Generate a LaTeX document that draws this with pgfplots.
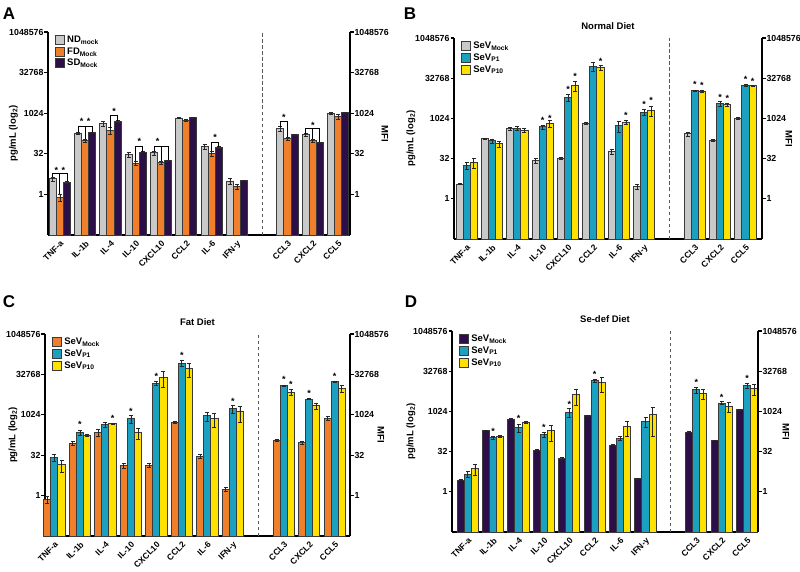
\documentclass[border=0pt]{standalone}
\usepackage{fontspec}
\setmainfont{Liberation Sans}
\usepackage{pgfplots}
\usepackage{pgfplotstable}
\pgfplotsset{compat=1.18}

\definecolor{cgray}{HTML}{C9C9C9}
\definecolor{corange}{HTML}{EF7F2A}
\definecolor{cpurple}{HTML}{2C0E48}
\definecolor{cteal}{HTML}{1BA0BF}
\definecolor{cyellow}{HTML}{FFE100}
\definecolor{cedge}{HTML}{3A3A3A}

% values in pg/mL, error columns are relative (fraction of the value)
\pgfplotstableread{
x  m     me    p1    p1e   p10   p10e
0  3.73  0.15  0.76  0.30  2.83  0.08
1  181   0.10  97    0.15  194   0.05
2  416   0.20  231   0.30  512   0.05
3  29.2  0.20  14.4  0.20  36.8  0.05
4  34.3  0.15  14.9  0.15  18.0  0.05
5  676   0.05  549   0.08  700   0.04
6  61    0.20  32.7  0.20  55.7  0.05
7  3.1   0.25  1.92  0.20  3.29  0.05
9  267   0.20  119   0.12  164   0.04
10 164   0.10  97    0.15  81    0.05
11 1024  0.12  776   0.20  1097  0.04
}\dataA

\pgfplotstableread{
x  m     me    p1     p1e   p10    p10e
0  3.53  0.05  17.5   0.30  22.6   0.40
1  179   0.06  146    0.20  113    0.25
2  422   0.15  446    0.15  375    0.20
3  27.7  0.20  488    0.20  666    0.30
4  32.9  0.08  6382   0.30  17920  0.40
5  666   0.05  91990  0.35  79540  0.20
6  56.9  0.20  545    0.45  724    0.15
7  2.81  0.20  1771   0.25  2091   0.40
9  267   0.20  11035  0.08  10440  0.06
10 154   0.08  3716   0.20  3304   0.15
11 1053  0.08  17430  0.06  16950  0.06
}\dataB

\pgfplotstableread{
x  m     me    p1     p1e   p10    p10e
0  0.73  0.30  26.9   0.30  13.9   0.45
1  90    0.20  224    0.20  174    0.08
2  231   0.30  434    0.20  471    0.05
3  12.8  0.20  724    0.30  224    0.45
4  13.5  0.15  15600  0.15  26060  0.60
5  530   0.06  84070  0.25  56650  0.55
6  29.4  0.15  942    0.40  771    0.55
7  1.73  0.20  1710   0.30  1323   0.60
9  116   0.12  12415  0.04  6985   0.25
10 92    0.15  3929   0.05  2226   0.25
11 771   0.20  17430  0.06  10085  0.30
}\dataC

\pgfplotstableread{
x  m     me    p1     p1e   p10    p10e
0  2.73  0.05  4.6    0.25  7.46   0.45
1  198   0.03  105    0.15  122    0.10
2  530   0.03  251    0.35  396    0.10
3  36.5  0.05  137    0.20  193    0.60
4  17.8  0.05  969    0.35  4450   0.60
5  724   0.04  14460  0.15  12160  0.55
6  56.1  0.05  103    0.15  272    0.55
7  3.16  0.05  434    0.40  771    0.85
9  172   0.03  6654   0.25  4973   0.40
10 84    0.03  2105   0.12  1574   0.40
11 1185  0.03  9675   0.20  7230   0.45
}\dataD

\tikzset{
  sepline/.style={draw=black!65, line width=1pt, dash pattern=on 3.5pt off 2.5pt},
  axlab/.style={font=\bfseries\fontsize{9.5}{10}\selectfont, inner sep=0pt},
  panlab/.style={font=\bfseries\fontsize{17}{18}\selectfont, inner sep=0pt},
}
\pgfplotsset{
  every axis legend/.append style={draw=none, fill=none,
      font=\bfseries\fontsize{9.5}{11}\selectfont, row sep=-0.5pt, inner sep=1pt},
  every axis title/.append style={font=\bfseries\fontsize{9.5}{10}\selectfont, yshift=-1pt},
  every y tick label/.append style={font=\bfseries\fontsize{8.8}{10}\selectfont, inner sep=0.8pt},
  every x tick label/.append style={rotate=45, anchor=north east, inner sep=1pt,
      font=\bfseries\fontsize{8.5}{9}\selectfont},
}

\newcommand{\st}[2]{\node[font=\bfseries\fontsize{9}{9}\selectfont,
  inner sep=0pt, yshift=-2pt] at (axis cs:#1,#2) {*};}

\begin{document}
\begin{tikzpicture}
\useasboundingbox (0,0) rectangle (800pt,-572pt);

% axis titles placed beside each panel
\node[panlab] at (9pt,-13.5pt) {A};
\node[panlab] at (410pt,-13.5pt) {B};
\node[panlab] at (9pt,-302pt) {C};
\node[panlab] at (411pt,-302pt) {D};
\node[axlab, rotate=90] at (13.5pt,-133.5pt) {pg/mL (log\textsubscript{2})};
\node[axlab, rotate=-90] at (385pt,-133.5pt) {MFI};
\node[axlab, rotate=90] at (411pt,-138.5pt) {pg/mL (log\textsubscript{2})};
\node[axlab, rotate=-90] at (789pt,-138.5pt) {MFI};
\node[axlab, rotate=90] at (13pt,-435pt) {pg/mL (log\textsubscript{2})};
\node[axlab, rotate=-90] at (381pt,-435pt) {MFI};
\node[axlab, rotate=90] at (411pt,-431.5pt) {pg/mL (log\textsubscript{2})};
\node[axlab, rotate=-90] at (786pt,-431.5pt) {MFI};

% ---------------- A ----------------
\begin{axis}[at={(48pt,-235pt)}, anchor=south west,
  scale only axis, width=302pt, height=203pt, xmin=-0.47, xmax=11.47,
  ymode=log, log basis y=2, log origin=infty, ymin=0.03125, ymax=1048576,
  axis x line*=bottom, axis y line*=left, axis line style={-, line width=1.6pt},
  ytick={1,32,1024,32768,1048576}, yticklabels={1,32,1024,32768,1048576},
  xtick={0,1,2,3,4,5,6,7,9,10,11},
  xticklabels={TNF-a,IL-1b,IL-4,IL-10,CXCL10,CCL2,IL-6,IFN-y,CCL3,CXCL2,CCL5},
  tick align=outside, major tick length=3.5pt, xtick style={draw=none},
  ytick style={line width=1.2pt, black},
  ybar=0pt, bar width=0.28, clip=false,
  legend style={at={(0.02,0.995)}, anchor=north west}, legend cell align=left,
  legend image code/.code={\draw[#1, line width=1pt] (0pt,-4.5pt) rectangle (9pt,4.5pt);}]
\addplot[fill=cgray, draw=cedge, line width=1pt, error bars/.cd, y dir=both, y explicit relative,
  error bar style={line width=0.7pt, black!85}, error mark options={rotate=90, mark size=2pt, line width=0.7pt, black!85}]
  table[x=x, y=m, y error=me] {\dataA};
\addplot[fill=corange, draw=cedge, line width=1pt, error bars/.cd, y dir=both, y explicit relative,
  error bar style={line width=0.7pt, black!85}, error mark options={rotate=90, mark size=2pt, line width=0.7pt, black!85}]
  table[x=x, y=p1, y error=p1e] {\dataA};
\addplot[fill=cpurple, draw=cedge, line width=1pt, error bars/.cd, y dir=both, y explicit relative,
  error bar style={line width=0.7pt, black!85}, error mark options={rotate=90, mark size=2pt, line width=0.7pt, black!85}]
  table[x=x, y=p10, y error=p10e] {\dataA};
\legend{ND\textsubscript{mock}, FD\textsubscript{Mock}, SD\textsubscript{Mock}}
\draw[sepline] (axis cs:8,0.03125) -- (axis cs:8,1048576);
\begin{scope}[line width=0.9pt]
\draw (axis cs:-0.28,4.3) |- (axis cs:0.28,5.8) -- (axis cs:0.28,3.1);
\draw (axis cs:0,5.8) -- (axis cs:0,1.0);
\draw (axis cs:0.72,200) |- (axis cs:1.28,338) -- (axis cs:1.28,204);
\draw (axis cs:1,338) -- (axis cs:1,112);
\draw (axis cs:2,300) |- (axis cs:2.28,840) -- (axis cs:2.28,540);
\draw (axis cs:3,17.3) |- (axis cs:3.28,61) -- (axis cs:3.28,38.6);
\draw (axis cs:3.72,39.5) |- (axis cs:4.28,61) -- (axis cs:4.28,19);
\draw (axis cs:4,61) -- (axis cs:4,17);
\draw (axis cs:6,39) |- (axis cs:6.28,86) -- (axis cs:6.28,58.5);
\draw (axis cs:8.72,320) |- (axis cs:9,505) -- (axis cs:9,133);
\draw (axis cs:9.72,180) |- (axis cs:10.28,269) -- (axis cs:10.28,85);
\draw (axis cs:10,269) -- (axis cs:10,112);
\end{scope}
\st{-0.14}{8.9}\st{0.14}{8.9}
\st{0.86}{590}\st{1.14}{590}
\st{2.14}{1400}\st{3.14}{108}\st{3.86}{108}\st{6.14}{152}
\st{8.86}{840}\st{10}{446}
\end{axis}
\begin{axis}[at={(48pt,-235pt)}, anchor=south west,
  scale only axis, width=302pt, height=203pt, xmin=0, xmax=1,
  ymode=log, log basis y=2, ymin=0.03125, ymax=1048576,
  axis x line=none, axis y line*=right, axis line style={-, line width=1.6pt},
  ytick={1,32,1024,32768,1048576}, yticklabels={1,32,1024,32768,1048576},
  tick align=outside, major tick length=3.5pt, ytick style={line width=1.2pt, black}]
\addplot[draw=none] coordinates {(0.5,1)};
\end{axis}

% ---------------- B ----------------
\begin{axis}[at={(454pt,-239pt)}, anchor=south west,
  scale only axis, width=308pt, height=201pt, xmin=-0.5, xmax=11.65, title={Normal Diet},
  ymode=log, log basis y=2, log origin=infty, ymin=0.03125, ymax=1048576,
  axis x line*=bottom, axis y line*=left, axis line style={-, line width=1.6pt},
  ytick={1,32,1024,32768,1048576}, yticklabels={1,32,1024,32768,1048576},
  xtick={0,1,2,3,4,5,6,7,9,10,11},
  xticklabels={TNF-a,IL-1b,IL-4,IL-10,CXCL10,CCL2,IL-6,IFN-y,CCL3,CXCL2,CCL5},
  tick align=outside, major tick length=3.5pt, xtick style={draw=none},
  ytick style={line width=1.2pt, black},
  ybar=0pt, bar width=0.28, clip=false,
  legend style={at={(0.02,0.995)}, anchor=north west}, legend cell align=left,
  legend image code/.code={\draw[#1, line width=1pt] (0pt,-4.5pt) rectangle (9pt,4.5pt);}]
\addplot[fill=cgray, draw=cedge, line width=1pt, error bars/.cd, y dir=both, y explicit relative,
  error bar style={line width=0.7pt, black!85}, error mark options={rotate=90, mark size=2pt, line width=0.7pt, black!85}]
  table[x=x, y=m, y error=me] {\dataB};
\addplot[fill=cteal, draw=cedge, line width=1pt, error bars/.cd, y dir=both, y explicit relative,
  error bar style={line width=0.7pt, black!85}, error mark options={rotate=90, mark size=2pt, line width=0.7pt, black!85}]
  table[x=x, y=p1, y error=p1e] {\dataB};
\addplot[fill=cyellow, draw=cedge, line width=1pt, error bars/.cd, y dir=both, y explicit relative,
  error bar style={line width=0.7pt, black!85}, error mark options={rotate=90, mark size=2pt, line width=0.7pt, black!85}]
  table[x=x, y=p10, y error=p10e] {\dataB};
\legend{SeV\textsubscript{Mock}, SeV\textsubscript{P1}, SeV\textsubscript{P10}}
\draw[sepline] (axis cs:8,0.03125) -- (axis cs:8,1048576);
\st{3}{1024}\st{3.28}{1200}
\st{4}{14260}\st{4.28}{46340}
\st{5.28}{161000}
\st{6.28}{1552}
\st{7}{4096}\st{7.28}{5790}
\st{9}{22550}\st{9.28}{21310}
\st{10}{7640}\st{10.28}{6650}
\st{11}{35100}\st{11.28}{30570}
\end{axis}
\begin{axis}[at={(454pt,-239pt)}, anchor=south west,
  scale only axis, width=308pt, height=201pt, xmin=0, xmax=1,
  ymode=log, log basis y=2, ymin=0.03125, ymax=1048576,
  axis x line=none, axis y line*=right, axis line style={-, line width=1.6pt},
  ytick={1,32,1024,32768,1048576}, yticklabels={1,32,1024,32768,1048576},
  tick align=outside, major tick length=3.5pt, ytick style={line width=1.2pt, black}]
\addplot[draw=none] coordinates {(0.5,1)};
\end{axis}

% ---------------- C ----------------
\begin{axis}[at={(45pt,-536pt)}, anchor=south west,
  scale only axis, width=305pt, height=202pt, xmin=-0.37, xmax=11.6, title={Fat Diet},
  ymode=log, log basis y=2, log origin=infty, ymin=0.03125, ymax=1048576,
  axis x line*=bottom, axis y line*=left, axis line style={-, line width=1.6pt},
  ytick={1,32,1024,32768,1048576}, yticklabels={1,32,1024,32768,1048576},
  xtick={0,1,2,3,4,5,6,7,9,10,11},
  xticklabels={TNF-a,IL-1b,IL-4,IL-10,CXCL10,CCL2,IL-6,IFN-y,CCL3,CXCL2,CCL5},
  tick align=outside, major tick length=3.5pt, xtick style={draw=none},
  ytick style={line width=1.2pt, black},
  ybar=0pt, bar width=0.28, clip=false,
  legend style={at={(0.02,0.995)}, anchor=north west}, legend cell align=left,
  legend image code/.code={\draw[#1, line width=1pt] (0pt,-4.5pt) rectangle (9pt,4.5pt);}]
\addplot[fill=corange, draw=cedge, line width=1pt, error bars/.cd, y dir=both, y explicit relative,
  error bar style={line width=0.7pt, black!85}, error mark options={rotate=90, mark size=2pt, line width=0.7pt, black!85}]
  table[x=x, y=m, y error=me] {\dataC};
\addplot[fill=cteal, draw=cedge, line width=1pt, error bars/.cd, y dir=both, y explicit relative,
  error bar style={line width=0.7pt, black!85}, error mark options={rotate=90, mark size=2pt, line width=0.7pt, black!85}]
  table[x=x, y=p1, y error=p1e] {\dataC};
\addplot[fill=cyellow, draw=cedge, line width=1pt, error bars/.cd, y dir=both, y explicit relative,
  error bar style={line width=0.7pt, black!85}, error mark options={rotate=90, mark size=2pt, line width=0.7pt, black!85}]
  table[x=x, y=p10, y error=p10e] {\dataC};
\legend{SeV\textsubscript{Mock}, SeV\textsubscript{P1}, SeV\textsubscript{P10}}
\draw[sepline] (axis cs:8,0.03125) -- (axis cs:8,1048576);
\st{1}{545}\st{2.28}{891}\st{3}{1663}\st{4}{31870}\st{5}{204000}
\st{7}{3716}\st{9}{25350}\st{9.28}{16380}\st{10}{7640}\st{11}{31870}
\end{axis}
\begin{axis}[at={(45pt,-536pt)}, anchor=south west,
  scale only axis, width=305pt, height=202pt, xmin=0, xmax=1,
  ymode=log, log basis y=2, ymin=0.03125, ymax=1048576,
  axis x line=none, axis y line*=right, axis line style={-, line width=1.6pt},
  ytick={1,32,1024,32768,1048576}, yticklabels={1,32,1024,32768,1048576},
  tick align=outside, major tick length=3.5pt, ytick style={line width=1.2pt, black}]
\addplot[draw=none] coordinates {(0.5,1)};
\end{axis}

% ---------------- D ----------------
\begin{axis}[at={(452pt,-532pt)}, anchor=south west,
  scale only axis, width=306pt, height=201pt, xmin=-0.62, xmax=11.43, title={Se-def Diet},
  ymode=log, log basis y=2, log origin=infty, ymin=0.03125, ymax=1048576,
  axis x line*=bottom, axis y line*=left, axis line style={-, line width=1.6pt},
  ytick={1,32,1024,32768,1048576}, yticklabels={1,32,1024,32768,1048576},
  xtick={0,1,2,3,4,5,6,7,9,10,11},
  xticklabels={TNF-a,IL-1b,IL-4,IL-10,CXCL10,CCL2,IL-6,IFN-y,CCL3,CXCL2,CCL5},
  tick align=outside, major tick length=3.5pt, xtick style={draw=none},
  ytick style={line width=1.2pt, black},
  ybar=0pt, bar width=0.28, clip=false,
  legend style={at={(0.02,0.995)}, anchor=north west}, legend cell align=left,
  legend image code/.code={\draw[#1, line width=1pt] (0pt,-4.5pt) rectangle (9pt,4.5pt);}]
\addplot[fill=cpurple, draw=cedge, line width=1pt, error bars/.cd, y dir=both, y explicit relative,
  error bar style={line width=0.7pt, black!85}, error mark options={rotate=90, mark size=2pt, line width=0.7pt, black!85}]
  table[x=x, y=m, y error=me] {\dataD};
\addplot[fill=cteal, draw=cedge, line width=1pt, error bars/.cd, y dir=both, y explicit relative,
  error bar style={line width=0.7pt, black!85}, error mark options={rotate=90, mark size=2pt, line width=0.7pt, black!85}]
  table[x=x, y=p1, y error=p1e] {\dataD};
\addplot[fill=cyellow, draw=cedge, line width=1pt, error bars/.cd, y dir=both, y explicit relative,
  error bar style={line width=0.7pt, black!85}, error mark options={rotate=90, mark size=2pt, line width=0.7pt, black!85}]
  table[x=x, y=p10, y error=p10e] {\dataD};
\legend{SeV\textsubscript{Mock}, SeV\textsubscript{P1}, SeV\textsubscript{P10}}
\draw[sepline] (axis cs:8,0.03125) -- (axis cs:8,1048576);
\st{1}{217}\st{2}{648}\st{3}{307}\st{4}{2165}\st{5}{29530}
\st{9}{15290}\st{10}{4180}\st{11}{20170}
\end{axis}
\begin{axis}[at={(452pt,-532pt)}, anchor=south west,
  scale only axis, width=306pt, height=201pt, xmin=0, xmax=1,
  ymode=log, log basis y=2, ymin=0.03125, ymax=1048576,
  axis x line=none, axis y line*=right, axis line style={-, line width=1.6pt},
  ytick={1,32,1024,32768,1048576}, yticklabels={1,32,1024,32768,1048576},
  tick align=outside, major tick length=3.5pt, ytick style={line width=1.2pt, black}]
\addplot[draw=none] coordinates {(0.5,1)};
\end{axis}
\end{tikzpicture}
\end{document}
